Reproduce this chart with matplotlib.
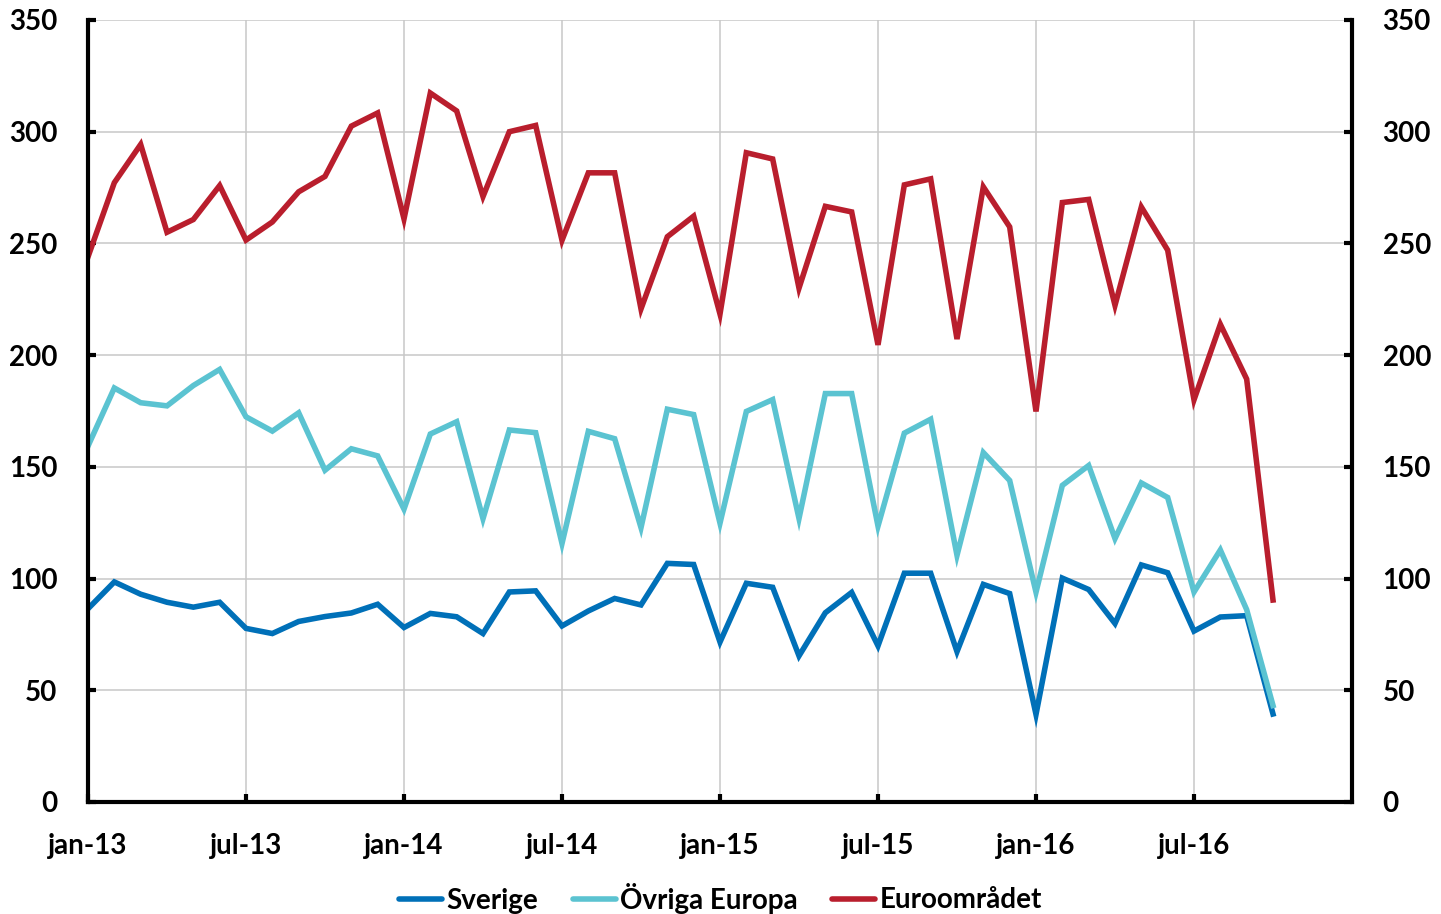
import numpy as np
import matplotlib
matplotlib.use("Agg")
import matplotlib.pyplot as plt

# monthly values jan-13 .. okt-16
sverige = [86.5, 98.5, 93, 89.4, 87.2, 89.4, 77.7, 75.4, 80.8, 83, 84.6, 88.5,
           78.1, 84.4, 82.9, 75.4, 94, 94.5, 78.8, 85.5, 91.1, 88.2, 106.8, 106.3,
           71.6, 97.9, 96.1, 65.4, 84.7, 93.8, 69.9, 102.4, 102.4, 67.3, 97.4, 93.3,
           39.2, 100.2, 95.1, 79.9, 106.1, 102.6, 76.5, 82.8, 83.4, 39.4]
ovriga_europa = [159.3, 185.3, 178.7, 177.3, 186.4, 193.6, 172.4, 166, 174.2, 148.5, 158.1, 154.9,
                 131.1, 164.7, 170.2, 126.8, 166.5, 165.3, 115.7, 165.9, 162.6, 122.8, 175.8, 173.4,
                 124.8, 174.8, 180.1, 126.9, 182.8, 182.8, 123.5, 165.1, 171.3, 110.4, 156.4, 143.9,
                 93.9, 141.7, 150.6, 117.9, 142.8, 136.3, 94, 112.8, 86.1, 43.2]
euroomradet = [244, 277.2, 294.3, 255, 260.7, 275.9, 251.5, 259.6, 273.1, 280, 302.5, 308.4,
               261, 317.3, 309.3, 271, 300, 302.8, 251.4, 281.6, 281.6, 220.7, 253, 262.2,
               218.4, 290.6, 287.8, 230, 266.6, 264.1, 204.6, 276.2, 278.9, 207.2, 275.3, 257.4,
               174.8, 268.3, 269.7, 222.3, 266.3, 247, 180, 213.8, 189.3, 90.4]

tick_pos = [0, 6, 12, 18, 24, 30, 36, 42]
tick_labels = ["jan-13", "jul-13", "jan-14", "jul-14", "jan-15", "jul-15", "jan-16", "jul-16"]
y_ticks = [0, 50, 100, 150, 200, 250, 300, 350]

plt.rcParams['font.family'] = ['Lato', 'DejaVu Sans']
plt.rcParams['font.weight'] = 'bold'

fig = plt.figure(figsize=(14.41, 9.14), dpi=100)
ax = fig.add_axes([88 / 1441, 1 - 802 / 914, (1352 - 88) / 1441, (802 - 20) / 914])

x = np.arange(len(sverige))
lw = 4.0
ax.plot(x, sverige, color='#0070B8', lw=lw, label='Sverige', solid_joinstyle='miter')
ax.plot(x, ovriga_europa, color='#5BC3D1', lw=lw, label='Övriga Europa', solid_joinstyle='miter')
ax.plot(x, euroomradet, color='#B91E2D', lw=lw, label='Euroområdet', solid_joinstyle='miter')

ax.set_xlim(0, 48)
ax.set_ylim(0, 350)
ax.set_xticks(tick_pos)
ax.set_xticklabels(tick_labels)
ax.set_yticks(y_ticks)

ax.grid(True, color='#c8c8c8', lw=1.1)
ax.set_axisbelow(True)

for side in ['left', 'right', 'bottom']:
    ax.spines[side].set_linewidth(3)
    ax.spines[side].set_color('black')
ax.spines['top'].set_visible(False)

ax.tick_params(axis='y', direction='in', length=6, width=3, pad=22,
               left=True, right=True, labelleft=True, labelright=True, labelsize=20)
ax.tick_params(axis='x', direction='in', length=6, width=3, pad=22, labelsize=20)
for lab in ax.get_xticklabels() + ax.get_yticklabels():
    lab.set_fontweight('bold')

leg = fig.legend(loc='center', bbox_to_anchor=(0.5, 1 - 898 / 914), ncol=3, frameon=False,
                 handlelength=1.55, handletextpad=0.15, columnspacing=1.25,
                 prop={'weight': 'bold', 'size': 20})
for h in leg.get_lines():
    h.set_solid_capstyle('round')

fig.savefig('out.png', dpi=100)
